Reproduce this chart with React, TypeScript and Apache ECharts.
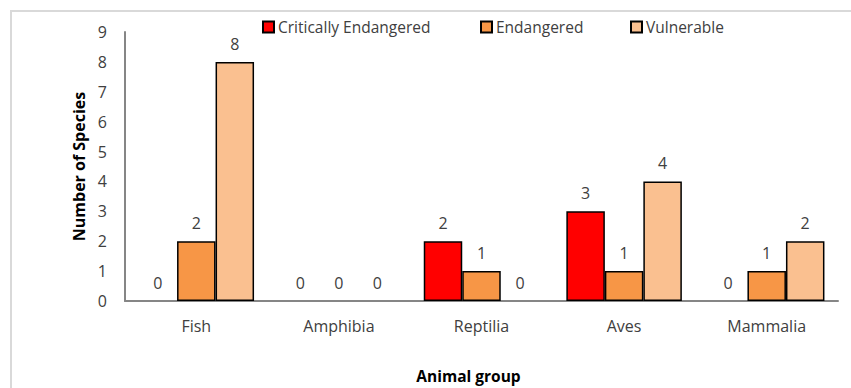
import React, { useEffect, useRef } from "react";
import * as echarts from "echarts";

const categories = ["Fish", "Amphibia", "Reptilia", "Aves", "Mammalia"];
const seriesNames = ["Critically Endangered", "Endangered", "Vulnerable"];
const criticallyEndangered = [0, 0, 2, 3, 0];
const endangered = [2, 0, 1, 1, 1];
const vulnerable = [8, 0, 0, 4, 2];
const colors = ["#FF0000", "#F79646", "#FAC090"];
const yTicks = [0, 1, 2, 3, 4, 5, 6, 7, 8, 9];

const FONT = "'Open Sans', sans-serif";
const TXT = "#404040";

export default function App() {
  const ref = useRef<HTMLDivElement>(null);
  useEffect(() => {
    if (!ref.current) return;
    const chart = echarts.init(ref.current, undefined, { renderer: "svg" });
    const values = [criticallyEndangered, endangered, vulnerable];
    const legendLefts = [262, 480, 630];
    chart.setOption({
      animation: false,
      backgroundColor: "#ffffff",
      textStyle: { fontFamily: FONT },
      graphic: [
        {
          type: "rect",
          shape: { x: 11, y: 11, width: 850, height: 390 },
          style: { fill: "none", stroke: "#d9d9d9", lineWidth: 2 },
          silent: true,
        },
      ],
      legend: seriesNames.map((n, i) => ({
        data: [n],
        left: legendLefts[i],
        top: 19,
        icon: "rect",
        itemWidth: 11,
        itemHeight: 11,
        itemGap: 4,
        padding: 0,
        textStyle: { fontFamily: FONT, fontSize: 15.5, color: TXT, padding: [0, 0, 0, -1] },
      })),
      grid: { left: 125, right: 13, top: 32, bottom: 87, containLabel: false, outerBoundsMode: "none" },
      xAxis: {
        type: "category",
        data: categories,
        name: "Animal group",
        nameLocation: "middle",
        nameGap: 67,
        nameTextStyle: { fontFamily: FONT, fontSize: 15.5, fontWeight: "bold", color: "#000", padding: [0, 26, 0, 0] },
        axisLine: { lineStyle: { color: "#868686", width: 2 } },
        axisTick: { show: false },
        axisLabel: { fontFamily: FONT, fontSize: 16, color: TXT, margin: 17 },
      },
      yAxis: {
        type: "value",
        min: 0,
        max: yTicks[yTicks.length - 1],
        interval: 1,
        name: "Number of Species",
        nameLocation: "middle",
        nameGap: 38,
        nameTextStyle: { fontFamily: FONT, fontSize: 16, fontWeight: "bold", color: "#000" },
        axisLine: { show: true, lineStyle: { color: "#868686", width: 2 } },
        axisTick: { show: false },
        splitLine: { show: false },
        axisLabel: { fontFamily: FONT, fontSize: 16, color: TXT, margin: 18 },
      },
      series: seriesNames.map((n, i) => ({
        name: n,
        type: "bar",
        data: values[i].map((v) =>
          v === 0 ? { value: v, itemStyle: { borderWidth: 0, color: "transparent" } } : v
        ),
        barGap: "0%",
        barCategoryGap: "19%",
        itemStyle: { color: colors[i], borderColor: "#000", borderWidth: 1.5 },
        label: {
          show: true,
          position: "top",
          distance: 10,
          fontFamily: FONT,
          fontSize: 16,
          color: TXT,
        },
      })),
    });
    return () => chart.dispose();
  }, []);
  return <div ref={ref} style={{ width: 851, height: 388, position: "absolute", left: 0, top: 0 }} />;
}
